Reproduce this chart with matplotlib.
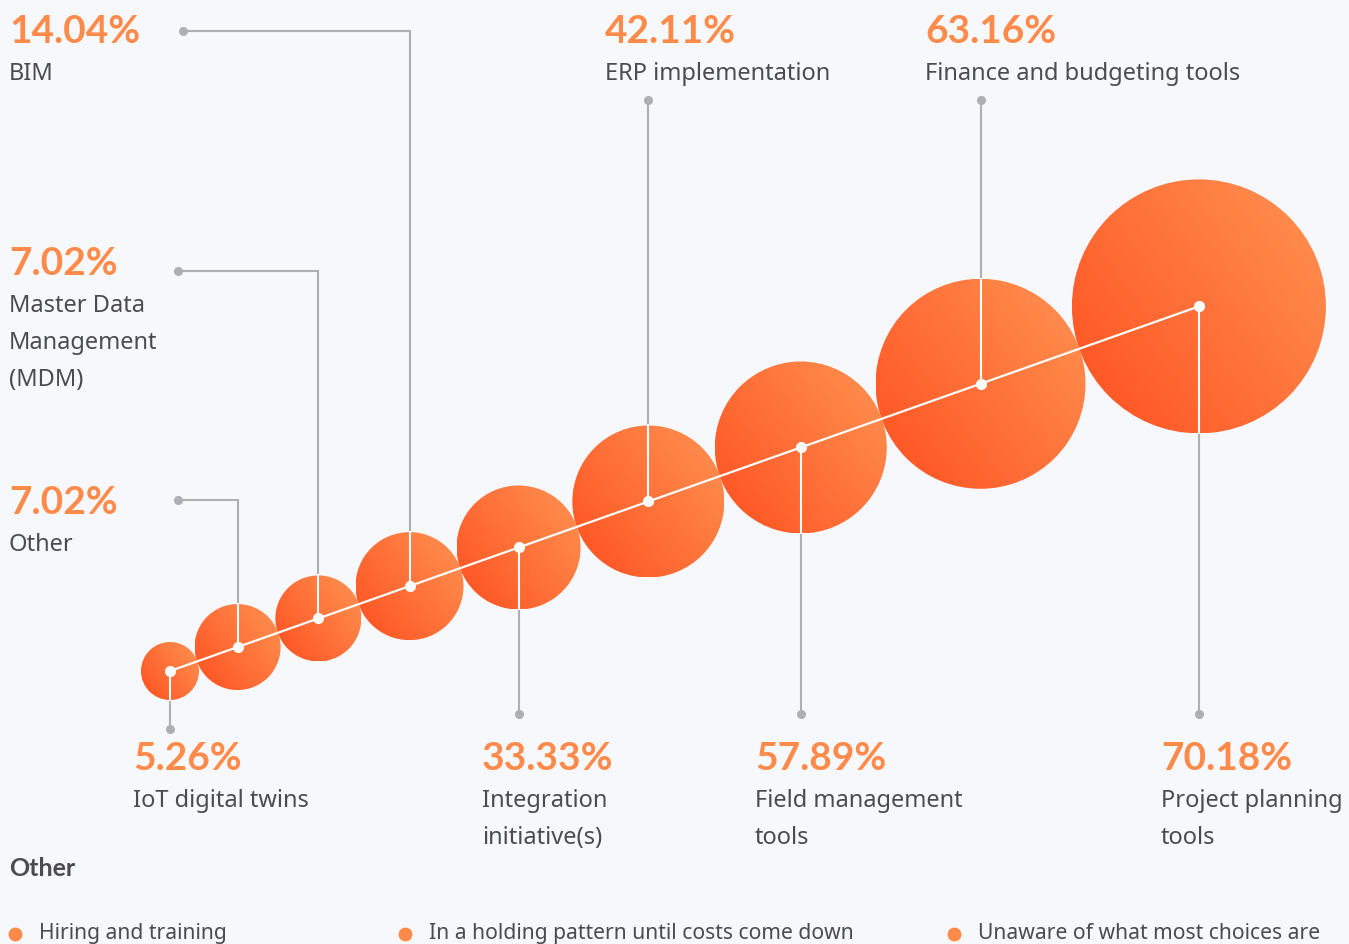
import numpy as np
import matplotlib
matplotlib.use("Agg")
import matplotlib.pyplot as plt
from matplotlib.patches import Circle

# data
labels = ["IoT digital twins", "Other", "Master Data\nManagement\n(MDM)", "BIM",
          "Integration\ninitiative(s)", "ERP implementation", "Field management\ntools",
          "Finance and budgeting tools", "Project planning\ntools"]
values = [5.26, 7.02, 7.02, 14.04, 33.33, 42.11, 57.89, 63.16, 70.18]
other_items = ["Hiring and training", "In a holding pattern until costs come down",
               "Unaware of what most choices are"]

# style / layout (pixel units)
bubble_r = [29, 43, 43, 54, 62, 76, 86, 105, 127]
start = (170, 671)
angle = np.arctan2(365, 1030)
# leader: (kind, end x, end y, text x, text baseline)
leaders = [
    ("down", None, 729, 133, 770),
    ("elbow", 178, 500, 9, 514),
    ("elbow", 178, 271, 9, 275),
    ("elbow", 183, 31, 9, 43),
    ("down", None, 714, 482, 770),
    ("up", None, 100, 605, 43),
    ("down", None, 714, 755, 770),
    ("up", None, 100, 925, 43),
    ("down", None, 714, 1161, 770),
]

BG = "#f7f8fb"
ORANGE = "#ff8a4a"
GREY = "#adafb5"
TXT = "#4b4b50"
c_dark = np.array([255, 89, 39]) / 255
c_light = np.array([255, 138, 75]) / 255
grad_a = np.deg2rad(37)

plt.rcParams['font.family'] = ['Noto Sans', 'DejaVu Sans']
PCT_FONT = ['Lato', 'DejaVu Sans']

fig = plt.figure(figsize=(13.49, 9.44), dpi=100, facecolor=BG)
ax = fig.add_axes([0, 0, 1, 1])
ax.axis('off')
ax.set_facecolor(BG)

# bubble centres: circles touching each other along a straight line
ux, uy = np.cos(angle), -np.sin(angle)
cx = [start[0]]
cy = [start[1]]
for i in range(1, len(values)):
    d = bubble_r[i - 1] + bubble_r[i] - 0.3
    cx.append(cx[-1] + d * ux)
    cy.append(cy[-1] + d * uy)

n = 150
for i in reversed(range(len(values))):
    r = bubble_r[i]
    xs = np.linspace(cx[i] - r, cx[i] + r, n)
    ys = np.linspace(cy[i] - r, cy[i] + r, n)
    X, Y = np.meshgrid(xs, ys)
    proj = (X - cx[i]) * np.cos(grad_a) + (cy[i] - Y) * np.sin(grad_a)
    t = np.clip(0.5 + 0.5 * proj / r, 0, 1)
    img = c_dark[None, None, :] * (1 - t[..., None]) + c_light[None, None, :] * t[..., None]
    circ = Circle((cx[i], cy[i]), r, facecolor='none', edgecolor='none')
    ax.add_patch(circ)
    im = ax.imshow(img, extent=(cx[i] - r, cx[i] + r, cy[i] + r, cy[i] - r),
                   origin='upper', zorder=2, interpolation='bilinear')
    im.set_clip_path(circ)

ax.set_xlim(0, 1349)
ax.set_ylim(944, 0)

# leader lines
for i, (kind, ex, ey, tx, ty) in enumerate(leaders):
    r = bubble_r[i]
    if kind == "elbow":
        ax.plot([cx[i], cx[i], ex], [cy[i], ey, ey], color=GREY, lw=1.5, zorder=1,
                solid_joinstyle='miter')
        ax.plot([cx[i], cx[i]], [cy[i], cy[i] - r], color='white', lw=1.5, zorder=3)
        ax.plot(ex, ey, 'o', color=GREY, ms=5.5, zorder=4)
    elif kind == "up":
        ax.plot([cx[i], cx[i]], [cy[i], ey], color=GREY, lw=1.5, zorder=1)
        ax.plot([cx[i], cx[i]], [cy[i], cy[i] - r], color='white', lw=1.5, zorder=3)
        ax.plot(cx[i], ey, 'o', color=GREY, ms=5.5, zorder=4)
    else:
        ax.plot([cx[i], cx[i]], [cy[i], ey], color=GREY, lw=1.5, zorder=1)
        ax.plot([cx[i], cx[i]], [cy[i], cy[i] + r], color='white', lw=1.5, zorder=3)
        ax.plot(cx[i], ey, 'o', color=GREY, ms=5.5, zorder=4)

    ax.text(tx, ty, f"{values[i]:.2f}%", color=ORANGE, fontsize=28, fontweight='bold',
            family=PCT_FONT, ha='left', va='baseline', zorder=5)
    for k, line in enumerate(labels[i].split("\n")):
        ax.text(tx, ty + 37 * (k + 1), line, color=TXT, fontsize=17,
                ha='left', va='baseline', zorder=5)

# connecting line through centres
ax.plot(cx, cy, color='white', lw=1.6, zorder=3, solid_capstyle='round')
ax.plot(cx, cy, 'o', color='white', ms=7, zorder=4)

# "Other" list at the bottom
ax.text(9, 876, "Other", color=TXT, fontsize=18, fontweight='bold', family=PCT_FONT,
        ha='left', va='baseline')
for x0, item in zip([15, 405, 954], other_items):
    ax.plot(x0, 934, 'o', color=ORANGE, ms=9, zorder=4)
    ax.text(x0 + 24, 939, item, color=TXT, fontsize=15.2, ha='left', va='baseline')

fig.savefig("out.png", dpi=100, facecolor=BG)
